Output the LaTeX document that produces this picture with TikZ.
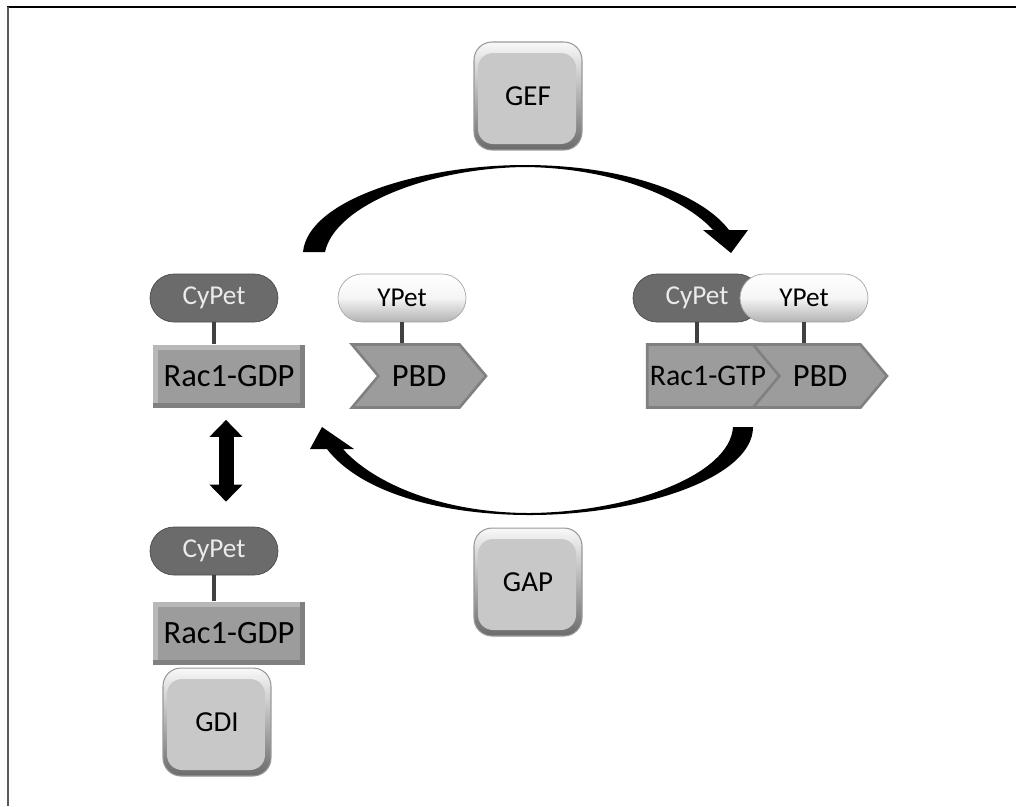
\documentclass[tikz,border=0pt]{standalone}
\usepackage{fontspec}
\setmainfont{Carlito}
\usetikzlibrary{shapes.symbols,arrows.meta}
\definecolor{cyfill}{HTML}{6B6B6B}
\definecolor{racface}{HTML}{9C9C9C}
\definecolor{raclight}{HTML}{B8B8B8}
\definecolor{racdark}{HTML}{808080}
\definecolor{keyface}{HTML}{C8C8C8}

\begin{document}
\begin{tikzpicture}[x=0.02cm, y=-0.02cm,
    every node/.style={font=\fontsize{16.5}{19}\selectfont, inner sep=0pt},
    keybox/.style={rounded corners=0.36cm, minimum size=2.16cm, draw=gray!80, line width=0.6pt,
        top color=gray!5, bottom color=black!58,
        path picture={\fill[keyface, rounded corners=0.3cm]
            ([xshift=0.08cm,yshift=-0.22cm]path picture bounding box.north west) rectangle
            ([xshift=-0.12cm,yshift=0.12cm]path picture bounding box.south east);}},
    pill/.style={rounded corners=0.48cm, minimum width=2.56cm, minimum height=0.96cm,
        font=\fontsize{15.5}{18}\selectfont},
    cypet/.style={pill, fill=cyfill, draw=black!70, text=white!92!black},
    ypet/.style={pill, draw=gray!70, top color=white, bottom color=gray!60, middle color=white!92!gray},
    racbox/.style={minimum width=3.04cm, minimum height=1.26cm, fill=racdark,
        font=\fontsize{18.5}{22}\selectfont,
        path picture={\fill[raclight] (path picture bounding box.north west) rectangle
            ([xshift=-0.1cm,yshift=0.1cm]path picture bounding box.south east);
            \fill[racface] ([xshift=0.1cm,yshift=-0.1cm]path picture bounding box.north west) rectangle
            ([xshift=-0.1cm,yshift=0.1cm]path picture bounding box.south east);}},
    pbdbox/.style={signal, signal to=east, signal from=west, signal pointer angle=100,
        font=\fontsize{18.5}{22}\selectfont,
        minimum height=1.26cm, minimum width=2.68cm, fill=racface, draw=racdark, line width=1.5pt},
    gtpbox/.style={signal, signal to=east, signal pointer angle=100,
        font=\fontsize{17}{20}\selectfont,
        minimum height=1.26cm, minimum width=2.96cm, fill=racface, draw=racdark, line width=1.5pt},
    tether/.style={draw=gray!50!black, line width=2.3pt},
    dblarrow/.style={line width=0.3cm, {Triangle[width=0.64cm,length=0.34cm]}-{Triangle[width=0.64cm,length=0.34cm]}}]

    \useasboundingbox (0,0) rectangle (1016,806);
    \draw[line width=1.2pt] (7,7) -- (1016,7);
    \draw[gray!70!black, line width=1.6pt] (8,7) -- (8,806);

    % regulators
    \node (gef) [keybox] at (528,96) {GEF};
    \node (gap) [keybox] at (528,582) {GAP};

    % inactive Rac1 and free PBD
    \node (racA) [racbox] at (229,376) {Rac1-GDP};
    \node (cypetA) [cypet] at (214,298) {CyPet};
    \draw[tether] (cypetA.south) -- (cypetA.south |- racA.north);
    \node (pbdA) [pbdbox] at (419,376) {PBD};
    \node (ypetA) [ypet] at (402,298) {YPet};
    \draw[tether] (ypetA.south) -- (ypetA.south |- pbdA.north);

    % active Rac1 bound to PBD
    \node (gtp) [gtpbox] at (708,376) {Rac1-GTP};
    \node (pbdB) [pbdbox] at (820,376) {PBD};
    \node (cypetB) [cypet] at (697,298) {CyPet};
    \node (ypetB) [ypet] at (804,298) {YPet};
    \draw[tether] (cypetB.south) -- (cypetB.south |- gtp.north);
    \draw[tether] (ypetB.south) -- (ypetB.south |- pbdB.north);

    % GDI complex
    \node (racC) [racbox] at (229,633) {Rac1-GDP};
    \node (cypetC) [cypet] at (214,551) {CyPet};
    \draw[tether] (cypetC.south) -- (cypetC.south |- racC.north);
    \node (gdi) [keybox] at (217,722) {GDI};

    \draw[dblarrow] ([xshift=-0.06cm,yshift=-0.24cm]racA.south) -- ([xshift=-0.06cm,yshift=0.5cm]racA.south |- cypetC.north);

    % cycle arrows
    \fill (303,252) .. controls (308,200) and (420,165) .. (525,165)
        .. controls (620,165) and (700,192) .. (729,230) -- (748,230) -- (731,253) -- (703,230) -- (713,230)
        .. controls (688,202) and (620,168) .. (525,167)
        .. controls (430,168) and (335,205) .. (325,252) -- cycle;
    \fill (753,427) .. controls (753,478) and (640,515) .. (530,515)
        .. controls (440,515) and (360,492) .. (327,449) -- (310,449) -- (322,427) -- (354,449) -- (343,449)
        .. controls (372,482) and (440,513) .. (530,513)
        .. controls (630,512) and (730,475) .. (733,427) -- cycle;
\end{tikzpicture}
\end{document}
